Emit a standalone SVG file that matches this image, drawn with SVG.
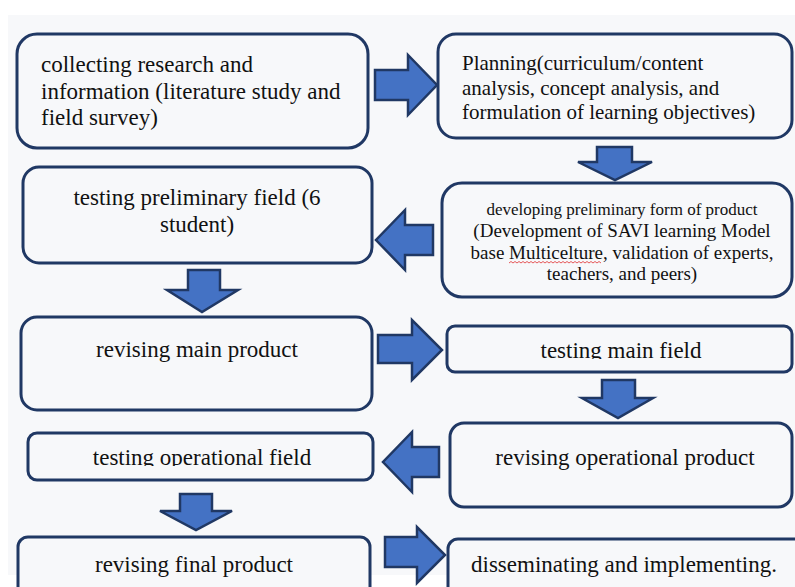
<svg xmlns="http://www.w3.org/2000/svg" width="795" height="587" viewBox="0 0 795 587">
<style>
.box{fill:#f7f8fa;stroke:#203864;stroke-width:3}
.arr{fill:#4472c4;stroke:#203864;stroke-width:2.5;stroke-linejoin:miter}
text{font-family:"Liberation Serif","Times New Roman",serif;fill:#111;font-size:23px}
text.s21{font-size:21px}
text.s19{font-size:19px}
text.s17{font-size:17px}
.c{text-anchor:middle}
</style>
<defs>
<clipPath id="clip6"><rect x="440" y="320" width="355" height="39"/></clipPath>
<clipPath id="clip7"><rect x="20" y="425" width="360" height="41"/></clipPath>
</defs>
<rect x="0" y="0" width="795" height="587" fill="#ffffff"/>
<rect x="8" y="15" width="787" height="560" fill="#f7f8fa"/>
<g id="connectors">
<path class="arr" d="M375,70 H408 V55 L437,85 L408,115 V100 H375 Z"/>
<path class="arr" d="M597,147 H632 V162 H652 L615,180 L578,162 H597 Z"/>
<path class="arr" d="M433,225 V255 H405 V270 L376,240 L405,210 V225 Z"/>
<path class="arr" d="M188,270 H220 V290 H238 L202,312 L167,290 H188 Z"/>
<path class="arr" d="M378,335 H412 V320 L442,350 L412,380 V363 H378 Z"/>
<path class="arr" d="M602,380 H635 V398 H653 L618,418 L582,398 H602 Z"/>
<path class="arr" d="M439,447 V477 H412 V492 L383,462 L412,432 V447 Z"/>
<path class="arr" d="M180,494 H212 V511 H232 L196,530 L160,511 H180 Z"/>
<path class="arr" d="M385,537 H417 V527 L445,555 L417,583 V567 H385 Z"/>
</g>
<g id="n1">
<rect class="box" x="17" y="34" width="351" height="114" rx="20"/>
<text x="41" y="72">collecting research and</text>
<text x="41" y="98.5">information (literature study and</text>
<text x="41" y="125">field survey)</text>
</g>
<g id="n2">
<rect class="box" x="438" y="34" width="354" height="104" rx="18"/>
<text class="s21" x="462" y="70">Planning(curriculum/content</text>
<text class="s21" x="462" y="94.5">analysis, concept analysis, and</text>
<text class="s21" x="462" y="119">formulation of learning objectives)</text>
</g>
<g id="n3">
<rect class="box" x="23" y="167" width="349" height="96" rx="16"/>
<text class="c" x="197" y="205">testing preliminary field (6</text>
<text class="c" x="197" y="232">student)</text>
</g>
<g id="n4">
<rect class="box" x="442" y="183" width="350" height="114" rx="20"/>
<text class="c s17" x="622" y="215">developing preliminary form of product</text>
<text class="c s19" x="622" y="237">(Development of SAVI learning Model</text>
<text class="c s19" x="622" y="259">base Multicelture, validation of experts,</text>
<text class="c s19" x="622" y="280">teachers, and peers)</text>
<path d="M509,263 l2,-1.5 l2,1.5 l2,-1.5 l2,1.5 l2,-1.5 l2,1.5 l2,-1.5 l2,1.5 l2,-1.5 l2,1.5 l2,-1.5 l2,1.5 l2,-1.5 l2,1.5 l2,-1.5 l2,1.5 l2,-1.5 l2,1.5 l2,-1.5 l2,1.5 l2,-1.5 l2,1.5 l2,-1.5 l2,1.5 l2,-1.5 l2,1.5 l2,-1.5 l2,1.5 l2,-1.5 l2,1.5 l2,-1.5 l2,1.5 l2,-1.5 l2,1.5 l2,-1.5 l2,1.5 l2,-1.5 l2,1.5 l2,-1.5 l2,1.5 l2,-1.5 l2,1.5 l2,-1.5 l2,1.5 l2,-1.5 l2,1.5" fill="none" stroke="#e03030" stroke-width="0.8"/>
</g>
<g id="n5">
<rect class="box" x="21" y="317" width="351" height="93" rx="16"/>
<text class="c" x="197" y="357">revising main product</text>
</g>
<g id="n6">
<rect class="box" x="447" y="326" width="345" height="46" rx="8"/>
<text class="c" x="621" y="358" clip-path="url(#clip6)">testing main field</text>
</g>
<g id="n7">
<rect class="box" x="28" y="433" width="345" height="47" rx="9"/>
<text class="c" x="202" y="465" clip-path="url(#clip7)">testing operational field</text>
</g>
<g id="n8">
<rect class="box" x="450" y="423" width="342" height="84" rx="14"/>
<text class="c" x="625" y="465">revising operational product</text>
</g>
<g id="n9">
<rect class="box" x="18" y="537" width="352" height="70" rx="10"/>
<text class="c" x="194" y="572">revising final product</text>
</g>
<g id="n10">
<rect class="box" x="448" y="539" width="360" height="70" rx="10"/>
<text class="c" x="624" y="572">disseminating and implementing.</text>
</g>
</svg>
